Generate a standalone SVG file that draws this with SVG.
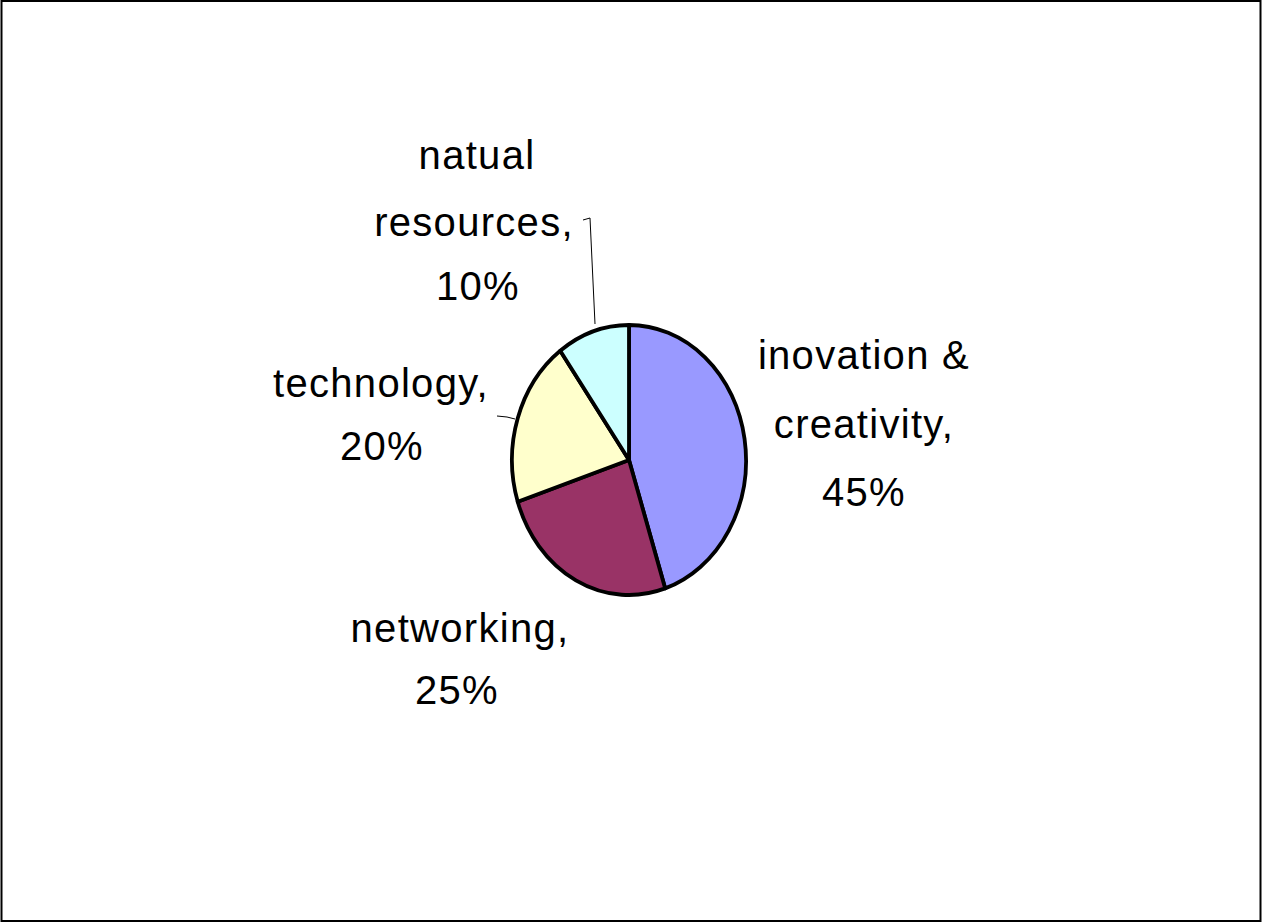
<svg xmlns="http://www.w3.org/2000/svg" width="1262" height="923" viewBox="0 0 1262 923">
<style>
.lbl{font-family:"Liberation Sans",Arial,sans-serif;font-size:40px;fill:#000;text-anchor:middle;letter-spacing:1.3px}
.slice{stroke:#000;stroke-width:3.8;stroke-linejoin:round}
.lead{fill:none;stroke:#000;stroke-width:1}
</style>
<rect x="1.5" y="1" width="1259" height="920" fill="#fff" stroke="#000" stroke-width="2"/>
<g id="slice-innovation"><path class="slice" fill="#9999FF" d="M629,460 L629,325 A117,135 0 0 1 665.16,588.39 Z"/></g>
<g id="slice-networking"><path class="slice" fill="#993366" d="M629,460 L665.16,588.39 A117,135 0 0 1 517.73,501.72 Z"/></g>
<g id="slice-technology"><path class="slice" fill="#FFFFCC" d="M629,460 L517.73,501.72 A117,135 0 0 1 560.23,350.78 Z"/></g>
<g id="slice-natural"><path class="slice" fill="#CCFFFF" d="M629,460 L560.23,350.78 A117,135 0 0 1 629,325 Z"/></g>
<g id="connectors">
<polyline class="lead" points="583,220 590,218 595,324"/>
<polyline class="lead" points="497,416 507,417 515,419"/>
</g>
<g id="label-natural">
<text class="lbl" x="477" y="169">natual</text>
<text class="lbl" x="474" y="236">resources,</text>
<text class="lbl" x="478" y="300">10%</text>
</g>
<g id="label-technology">
<text class="lbl" x="381" y="397">technology,</text>
<text class="lbl" x="382" y="460">20%</text>
</g>
<g id="label-innovation">
<text class="lbl" x="864" y="369">inovation &amp;</text>
<text class="lbl" x="864" y="438">creativity,</text>
<text class="lbl" x="864" y="506">45%</text>
</g>
<g id="label-networking">
<text class="lbl" x="460" y="642">networking,</text>
<text class="lbl" x="457" y="704">25%</text>
</g>
</svg>
